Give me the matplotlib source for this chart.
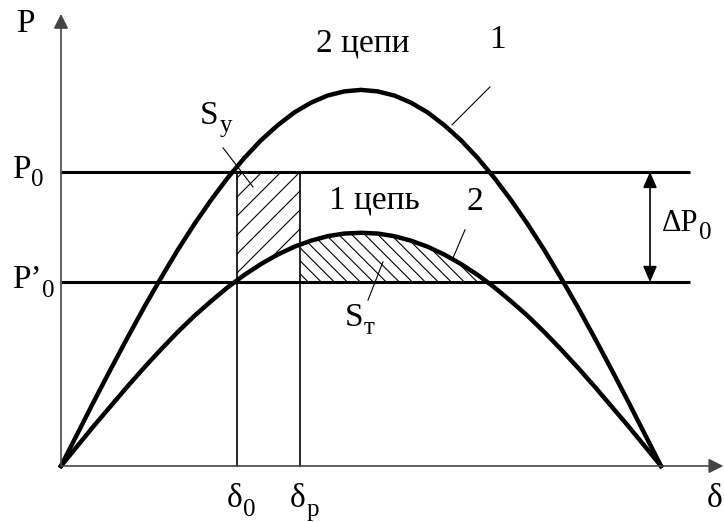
import numpy as np
import matplotlib
matplotlib.use("Agg")
import matplotlib.pyplot as plt
from matplotlib.collections import LineCollection
from matplotlib.path import Path
from matplotlib.transforms import Bbox, IdentityTransform

plt.rcParams["font.family"] = ["Liberation Serif", "DejaVu Serif"]

# rotor angle, degrees
delta = np.arange(0, 181, 5)
# power characteristic with both circuits in service (curve 1)
p_two = [0.000, 0.087, 0.174, 0.259, 0.342, 0.423, 0.500, 0.574, 0.643, 0.707,
         0.766, 0.819, 0.866, 0.906, 0.940, 0.966, 0.985, 0.996, 1.000, 0.996,
         0.985, 0.966, 0.940, 0.906, 0.866, 0.819, 0.766, 0.707, 0.643, 0.574,
         0.500, 0.423, 0.342, 0.259, 0.174, 0.087, 0.000]
# power characteristic with one circuit (curve 2)
p_one = [0.000, 0.054, 0.108, 0.160, 0.212, 0.262, 0.310, 0.356, 0.399, 0.438,
         0.475, 0.508, 0.537, 0.562, 0.583, 0.599, 0.611, 0.618, 0.620, 0.618,
         0.611, 0.599, 0.583, 0.562, 0.537, 0.508, 0.475, 0.438, 0.399, 0.356,
         0.310, 0.262, 0.212, 0.160, 0.108, 0.054, 0.000]

p0 = 0.782        # initial power P0
p0_new = 0.489    # power P'0 after switching
delta0 = 52.7     # initial angle
delta_p = 71.8    # angle at the end of the transient

p_two = np.array(p_two)
p_one = np.array(p_one)

fig = plt.figure(figsize=(7.24, 5.22), dpi=100)
ax = fig.add_axes([0, 0, 1, 1])
ax.set_xlim(-18.3, 198.9)
ax.set_ylim(-0.149, 1.239)
ax.axis("off")

grey = "#444444"

# axes with arrows
arrow_kw = dict(arrowstyle="-|>,head_length=0.8,head_width=0.4", color=grey,
                lw=1.2, mutation_scale=11, shrinkA=0, shrinkB=0)
ax.annotate("", xy=(0, 1.202), xytext=(0, 0), arrowprops=arrow_kw)
ax.annotate("", xy=(198.7, 0), xytext=(0, 0), arrowprops=arrow_kw)

# power levels
ax.plot([0, 188.7], [p0, p0], color="black", lw=2.2, solid_capstyle="butt")
ax.plot([0, 188.7], [p0_new, p0_new], color="black", lw=2.2, solid_capstyle="butt")

# angle markers
ax.plot([delta0, delta0], [0, p0], color="black", lw=1.2)
ax.plot([delta_p, delta_p], [0, p0], color="black", lw=1.2)


def hatch(path, spacing, slope):
    """Draw 45-degree hatch lines (in pixels) clipped to a data-space path."""
    fig.canvas.draw()
    ext = ax.transData.transform(path.get_extents().get_points())
    (x0, y0), (x1, y1) = ext
    pad = 5
    segs = []
    if slope > 0:
        for d in np.arange(y0 - x1 - pad, y1 - x0 + pad, spacing):
            segs.append([(x0 - pad, x0 - pad + d), (x1 + pad, x1 + pad + d)])
    else:
        for s in np.arange(x0 + y0 - pad, x1 + y1 + pad, spacing):
            segs.append([(x0 - pad, s - x0 + pad), (x1 + pad, s - x1 - pad)])
    lc = LineCollection(segs, colors="black", linewidths=0.8,
                        transform=IdentityTransform())
    ax.add_collection(lc)
    lc.set_clip_path(path, ax.transData)


# acceleration area S_y: between curve 2 and P0, from delta0 to delta_p
verts = list(zip(delta, p_one)) + [(180, p0), (0, p0), (0, 0)]
area_y = Path(verts, closed=True).clip_to_bbox(Bbox([[delta0, -1], [delta_p, 2]]))
hatch(area_y, 19, 1)

# deceleration area S_t: between curve 2 and P'0, right of delta_p
fb = ax.fill_between(delta, p0_new, p_one, where=p_one >= p0_new,
                     interpolate=True, facecolor="none", edgecolor="none")
area_t = fb.get_paths()[0].clip_to_bbox(Bbox([[delta_p, -1], [181, 2]]))
hatch(area_t, 13, -1)

# power-angle curves
ax.plot(delta, p_two, color="black", lw=3.2, solid_joinstyle="round")
ax.plot(delta, p_one, color="black", lw=3.2, solid_joinstyle="round")

# change of power arrow
ax.annotate("", xy=(176.7, p0), xytext=(176.7, p0_new),
            arrowprops=dict(arrowstyle="<|-|>,head_length=0.8,head_width=0.35",
                            color="black", lw=1.2, mutation_scale=12,
                            shrinkA=0, shrinkB=0))

# leader lines
lead = dict(color="black", lw=0.8)
ax.plot([48.6, 57.6], [0.846, 0.742], **lead)
ax.plot([128.7, 117.3], [1.008, 0.907], **lead)
ax.plot([121.2, 117.6], [0.628, 0.553], **lead)
ax.plot([96.6, 92.1], [0.543, 0.441], **lead)

fs = 24
fs_sub = 18


def label(x, y, base, sub=None, size=fs):
    t = ax.text(x, y, base, ha="left", va="center", fontsize=size)
    if sub:
        ax.annotate(sub, xy=(1, 0), xycoords=t, xytext=(0.5, -4.5),
                    textcoords="offset points", ha="left", va="bottom",
                    fontsize=fs_sub)
    return t


ax.text(-10.8, 1.176, "P", ha="center", va="center", fontsize=fs)
label(-14.7, p0 + 0.005, "P", "0")
label(-14.7, p0_new + 0.005, "P’", "0")
ax.text(90.5, 1.124, "2 цепи", ha="center", va="center", fontsize=fs)
ax.text(130.8, 1.133, "1", ha="center", va="center", fontsize=fs)
ax.text(93.9, 0.707, "1 цепь", ha="center", va="center", fontsize=fs)
ax.text(124.2, 0.702, "2", ha="center", va="center", fontsize=fs)
label(41.7, 0.931, "S", "у")
label(85.0, 0.394, "S", "т")
label(49.6, -0.088, "δ", "0")
label(68.6, -0.088, "δ", "р")
label(193.8, -0.088, "δ")
label(180.3, 0.646, "ΔP", "0", size=22)

fig.savefig("out.png", dpi=100)
